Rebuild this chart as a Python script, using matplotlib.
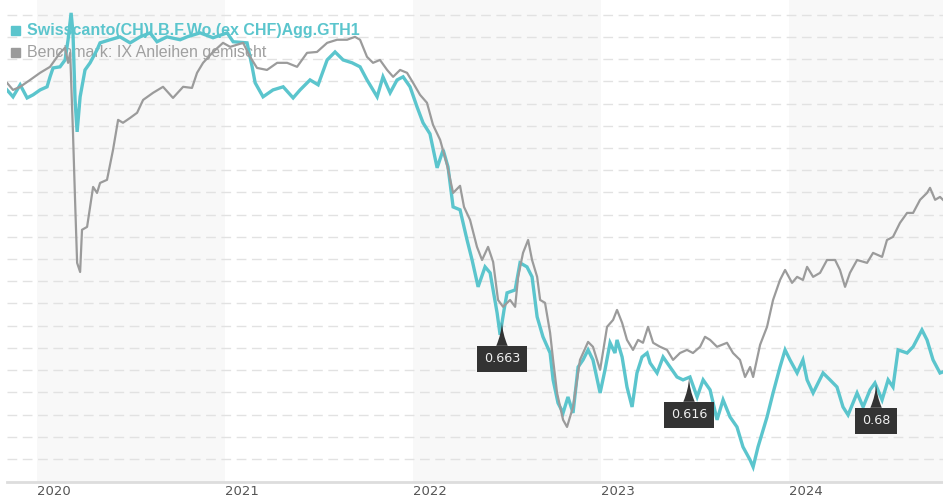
import matplotlib
matplotlib.use("Agg")
import matplotlib.pyplot as plt
from matplotlib.patches import Rectangle

# ---- data (time in decimal years, values in price units) ----
fund_t = [2019.840, 2019.872, 2019.910, 2019.947, 2019.979, 2020.016, 2020.053, 2020.069, 2020.085, 2020.122,
          2020.149, 2020.165, 2020.181, 2020.191, 2020.202, 2020.213, 2020.229, 2020.245, 2020.255, 2020.282,
          2020.319, 2020.335, 2020.388, 2020.441, 2020.495, 2020.548, 2020.601, 2020.638, 2020.691, 2020.761,
          2020.798, 2020.867, 2020.936, 2021.011, 2021.043, 2021.117, 2021.144, 2021.160, 2021.202, 2021.255,
          2021.309, 2021.362, 2021.399, 2021.452, 2021.495, 2021.543, 2021.585, 2021.628, 2021.676, 2021.718,
          2021.755, 2021.809, 2021.840, 2021.878, 2021.915, 2021.947, 2021.984, 2022.021, 2022.053, 2022.090,
          2022.128, 2022.160, 2022.186, 2022.213, 2022.250, 2022.287, 2022.314, 2022.346, 2022.383, 2022.410,
          2022.447, 2022.463, 2022.484, 2022.500, 2022.543, 2022.569, 2022.606, 2022.633, 2022.660, 2022.691,
          2022.729, 2022.745, 2022.771, 2022.798, 2022.824, 2022.851, 2022.878, 2022.904, 2022.931, 2022.957,
          2022.995, 2023.021, 2023.048, 2023.074, 2023.085, 2023.112, 2023.138, 2023.165, 2023.191, 2023.218,
          2023.245, 2023.261, 2023.298, 2023.330, 2023.367, 2023.404, 2023.436, 2023.473, 2023.511, 2023.543,
          2023.580, 2023.617, 2023.649, 2023.686, 2023.723, 2023.755, 2023.793, 2023.809, 2023.835, 2023.851,
          2023.883, 2023.915, 2023.952, 2023.979, 2024.005, 2024.043, 2024.074, 2024.096, 2024.128, 2024.181,
          2024.218, 2024.255, 2024.287, 2024.314, 2024.362, 2024.394, 2024.431, 2024.457, 2024.495, 2024.527,
          2024.553, 2024.580, 2024.628, 2024.660, 2024.707, 2024.734, 2024.766, 2024.803, 2024.819]
fund_v = [97.62, 97.31, 97.85, 97.26, 97.40, 97.62, 97.76, 98.21, 98.61, 98.66,
          98.97, 99.88, 101.09, 100.19, 97.17, 95.73, 97.31, 98.07, 98.52, 98.84,
          99.43, 99.74, 99.88, 100.01, 99.74, 100.01, 100.19, 99.79, 100.01, 99.88,
          100.01, 100.19, 99.97, 100.19, 99.79, 99.74, 98.66, 97.94, 97.31, 97.62,
          97.76, 97.26, 97.62, 98.07, 97.85, 98.97, 99.33, 98.97, 98.84, 98.66,
          98.07, 97.31, 98.21, 97.49, 98.07, 98.21, 97.76, 96.86, 96.14, 95.64,
          94.11, 94.92, 94.15, 92.35, 92.22, 90.87, 89.96, 88.75, 89.65, 89.38,
          87.58, 86.59, 87.71, 88.48, 88.61, 89.83, 89.65, 89.20, 87.40, 86.50,
          85.77, 84.56, 83.52, 83.07, 83.79, 83.07, 85.14, 85.46, 85.91, 85.46,
          83.97, 85.01, 86.23, 85.77, 86.36, 85.59, 84.24, 83.34, 84.87, 85.59,
          85.77, 85.32, 84.87, 85.59, 85.14, 84.69, 84.56, 84.69, 83.79, 84.56,
          84.11, 82.76, 83.66, 82.89, 82.44, 81.54, 80.95, 80.64, 81.54, 81.99,
          82.89, 83.97, 85.14, 85.91, 85.46, 84.87, 85.46, 84.56, 83.97, 84.87,
          84.56, 84.24, 83.34, 82.98, 83.97, 83.34, 84.11, 84.42, 83.66, 84.56,
          84.24, 85.91, 85.77, 86.05, 86.81, 86.36, 85.46, 84.87, 84.92]

bench_t = [2019.840, 2019.872, 2019.910, 2019.963, 2020.016, 2020.069, 2020.122, 2020.149, 2020.165, 2020.176,
           2020.191, 2020.202, 2020.213, 2020.229, 2020.239, 2020.266, 2020.298, 2020.319, 2020.335, 2020.372,
           2020.404, 2020.431, 2020.457, 2020.495, 2020.532, 2020.564, 2020.617, 2020.670, 2020.723, 2020.777,
           2020.824, 2020.851, 2020.883, 2020.936, 2020.989, 2021.027, 2021.096, 2021.133, 2021.170, 2021.223,
           2021.277, 2021.330, 2021.383, 2021.436, 2021.489, 2021.543, 2021.596, 2021.649, 2021.691, 2021.718,
           2021.755, 2021.787, 2021.824, 2021.862, 2021.894, 2021.931, 2021.968, 2022.000, 2022.037, 2022.074,
           2022.106, 2022.144, 2022.181, 2022.213, 2022.250, 2022.271, 2022.303, 2022.340, 2022.367, 2022.399,
           2022.426, 2022.452, 2022.479, 2022.516, 2022.543, 2022.559, 2022.585, 2022.612, 2022.633, 2022.660,
           2022.676, 2022.702, 2022.729, 2022.745, 2022.766, 2022.798, 2022.819, 2022.851, 2022.888, 2022.931,
           2022.957, 2022.995, 2023.032, 2023.064, 2023.085, 2023.112, 2023.138, 2023.170, 2023.197, 2023.223,
           2023.250, 2023.277, 2023.314, 2023.351, 2023.383, 2023.420, 2023.457, 2023.489, 2023.527, 2023.553,
           2023.580, 2023.617, 2023.670, 2023.702, 2023.739, 2023.766, 2023.793, 2023.809, 2023.846, 2023.883,
           2023.915, 2023.952, 2023.979, 2024.016, 2024.043, 2024.074, 2024.096, 2024.128, 2024.165, 2024.202,
           2024.245, 2024.271, 2024.298, 2024.324, 2024.362, 2024.415, 2024.447, 2024.495, 2024.521, 2024.553,
           2024.590, 2024.628, 2024.660, 2024.697, 2024.734, 2024.750, 2024.777, 2024.803, 2024.819]
bench_v = [97.94, 97.62, 97.76, 98.07, 98.39, 98.66, 99.29, 99.52, 98.84, 99.29,
           95.69, 92.67, 89.83, 89.42, 91.32, 91.45, 93.25, 92.98, 93.43, 93.57,
           94.92, 96.27, 96.14, 96.36, 96.59, 97.17, 97.49, 97.76, 97.26, 97.76,
           97.71, 98.39, 98.84, 99.33, 99.74, 99.56, 99.74, 99.11, 98.61, 98.52,
           98.84, 98.84, 98.66, 99.29, 99.33, 99.74, 99.88, 99.88, 100.01, 99.88,
           99.11, 98.84, 98.97, 98.52, 98.21, 98.52, 98.39, 97.94, 97.40, 97.04,
           96.05, 95.37, 94.24, 92.98, 93.30, 92.35, 91.77, 90.55, 89.96, 90.55,
           89.87, 88.16, 87.85, 88.16, 87.85, 89.20, 90.28, 90.86, 89.96, 89.20,
           88.16, 88.03, 86.68, 85.46, 83.97, 82.76, 82.44, 83.34, 85.46, 86.27,
           86.05, 85.01, 86.95, 87.26, 87.71, 87.13, 86.36, 85.91, 86.36, 86.23,
           86.95, 86.23, 86.05, 85.91, 85.46, 85.77, 85.91, 85.77, 86.05, 86.50,
           86.36, 86.05, 86.23, 85.77, 85.46, 84.69, 85.14, 84.69, 86.14, 86.95,
           88.16, 89.06, 89.51, 88.93, 89.20, 89.06, 89.65, 89.20, 89.38, 89.96,
           89.96, 89.51, 88.75, 89.38, 89.96, 89.83, 90.28, 90.10, 90.86, 91.00,
           91.63, 92.08, 92.08, 92.67, 92.98, 93.21, 92.67, 92.80, 92.67]

# distribution markers (label, date, value)
div_labels = ["0.663", "0.616", "0.68"]
div_t = [2022.473, 2023.468, 2024.463]
div_v = [87.17, 84.65, 84.38]

years = [2020, 2021, 2022, 2023, 2024]
fund_name = "Swisscanto(CH)I.B.F.Wo.(ex CHF)Agg.GTH1"
bench_name = "Benchmark: IX Anleihen gemischt"

TEAL = "#5bc5cd"
GRAY = "#9b9b9b"

W, H = 943, 500
fig = plt.figure(figsize=(W / 100, H / 100), dpi=100)
ax = fig.add_axes([7 / W, 1 - 482 / H, 1 - 7 / W, 482 / H])

x0, x1 = 2019.840, 2024.819
ax.set_xlim(x0, x1)
ax.set_ylim(79.96, 101.67)

# alternating year bands
for i, y in enumerate(years):
    if i % 2 == 0:
        ax.axvspan(y, min(y + 1, x1 + 1), color="#f8f8f8", zorder=0, lw=0)

# dashed horizontal grid
for g in range(81, 102):
    ax.axhline(g, color="#e2e2e2", lw=1.0, ls=(0, (7, 4)), zorder=1)

ax.plot(fund_t, fund_v, color=TEAL, lw=2.4, zorder=3, solid_joinstyle="miter")
ax.plot(bench_t, bench_v, color=GRAY, lw=1.6, zorder=4)

for lab, t, v in zip(div_labels, div_t, div_v):
    ax.annotate(lab, xy=(t, v), xytext=(0, -26.5), textcoords="offset points",
                ha="center", va="center", fontsize=9.2, color="#f0f0f0",
                family="DejaVu Sans",
                bbox=dict(boxstyle="square,pad=0.5", fc="#333333", ec="none"),
                arrowprops=dict(arrowstyle="wedge,tail_width=0.9,shrink_factor=0.3",
                                fc="#333333", ec="none", shrinkA=0, shrinkB=0),
                zorder=6)

for side in ["left", "right", "top"]:
    ax.spines[side].set_visible(False)
ax.spines["bottom"].set_color("#dddddd")
ax.spines["bottom"].set_linewidth(2)
ax.set_yticks([])
ax.set_xticks(years)
ax.set_xticklabels([str(y) for y in years])
ax.tick_params(axis="x", length=0, pad=2, labelsize=9.5, labelcolor="#555555")
for lbl in ax.get_xticklabels():
    lbl.set_horizontalalignment("left")

# legend (drawn under the lines)
ax.add_patch(Rectangle((11 / W, 1 - 35 / H), 9 / W, 9 / H, transform=fig.transFigure,
                       color=TEAL, clip_on=False, zorder=2))
ax.add_patch(Rectangle((11 / W, 1 - 57 / H), 9 / W, 9 / H, transform=fig.transFigure,
                       color=GRAY, clip_on=False, zorder=2))
ax.text(27 / W, 1 - 30 / H, fund_name, transform=fig.transFigure, va="center", ha="left",
        fontsize=11.5, fontweight="bold", color=TEAL, family="Liberation Sans", zorder=2)
ax.text(27 / W, 1 - 52 / H, bench_name, transform=fig.transFigure, va="center", ha="left",
        fontsize=11.5, color="#a0a0a0", family="Liberation Sans", zorder=2)

fig.savefig("out.png", dpi=100)
